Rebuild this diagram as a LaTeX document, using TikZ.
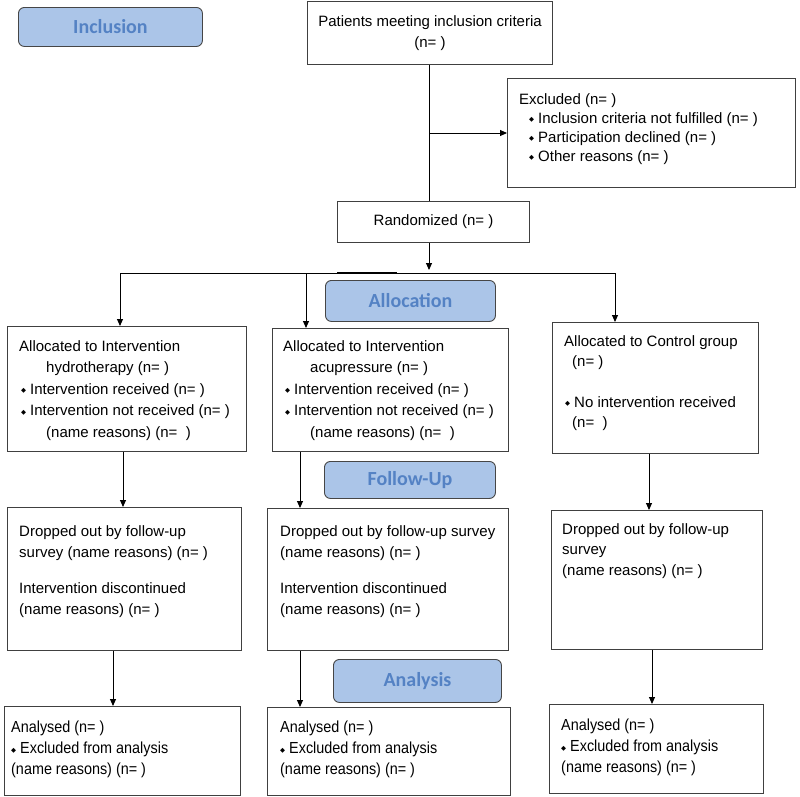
\documentclass[tikz,border=0pt]{standalone}
\usepackage{fontspec}
\setmainfont{Liberation Sans}
\newfontfamily\labfont{Carlito}
\newfontfamily\narrowfont[FakeStretch=0.9]{Liberation Sans}
\newfontfamily\symfont{DejaVu Sans}
\usetikzlibrary{arrows.meta, positioning}
\definecolor{my_blue}{RGB}{171, 197, 232}
\definecolor{my_textblue}{RGB}{84, 130, 196}
\definecolor{my_gray}{RGB}{70, 70, 70}
\newcommand{\bul}{{\symfont\fontsize{6.5}{6.5}\selectfont\raisebox{1.4pt}{◆}}\hspace{4pt}}
\tikzset {
  stage/.style = {draw=my_gray, line width=0.9pt, fill=my_blue, rounded corners=6pt, anchor=north west, text=my_textblue, font=\labfont\bfseries\fontsize{20}{24}\selectfont},
  box/.style = {draw=black!75, line width=1pt, fill=white, rectangle, anchor=north west, inner sep=0pt},
  txt/.style = {anchor=north west, align=left, inner sep=0pt, font=\fontsize{15}{21.5}\selectfont},
  ntxt/.style = {anchor=north west, align=left, inner sep=0pt, font=\narrowfont\fontsize{16}{21}\selectfont},
  line/.style = {-{Triangle[length=7pt, width=6pt]}, line width=0.9pt, color=black},
  plain/.style = {line width=0.9pt, color=black}
}

\begin{document}
\begin{tikzpicture}[x=1pt, y=-1pt]
    \useasboundingbox (0,0) rectangle (800,796);

    % stage labels
    \node[stage, minimum width=184pt, minimum height=39pt] (inclusion) at (18,7) {Inclusion};
    \node[stage, minimum width=170pt, minimum height=41pt] (allocation) at (325,280) {Allocation};
    \node[stage, minimum width=171pt, minimum height=37pt] (followup) at (324,461) {Follow-Up};
    \node[stage, minimum width=168pt, minimum height=43pt] (analysis) at (333,659) {Analysis};

    % enrolment
    \node[box, minimum width=245pt, minimum height=63pt, align=center, font=\fontsize{15}{21}\selectfont] (patients) at (307,1) {Patients meeting inclusion criteria\\(n= )};
    \node[box, minimum width=288pt, minimum height=109pt] (excluded) at (507,78) {};
    \node[txt, font=\fontsize{15}{19}\selectfont] (excludedtxt) at (519,93) {Excluded (n= )\\
      \hspace*{10pt}\bul Inclusion criteria not fulfilled (n= )\\
      \hspace*{10pt}\bul Participation declined (n= )\\
      \hspace*{10pt}\bul Other reasons (n= )};
    \node[box, minimum width=192pt, minimum height=41pt, font=\fontsize{15}{21}\selectfont] (randomized) at (337,201) {Randomized (n= )};

    % allocation
    \node[box, minimum width=239pt, minimum height=125pt] (hydro) at (7,326) {};
    \node[txt] (hydrotxt) at (19,340) {Allocated to Intervention\\
      \hspace*{27pt}hydrotherapy (n= )\\
      \hspace*{2pt}\bul Intervention received (n= )\\
      \hspace*{2pt}\bul Intervention not received (n= )\\
      \hspace*{27pt}(name reasons) (n= \ )};
    \node[box, minimum width=236pt, minimum height=123pt] (acu) at (272,328) {};
    \node[txt] (acutxt) at (283,340) {Allocated to Intervention\\
      \hspace*{27pt}acupressure (n= )\\
      \hspace*{2pt}\bul Intervention received (n= )\\
      \hspace*{2pt}\bul Intervention not received (n= )\\
      \hspace*{27pt}(name reasons) (n= \ )};
    \node[box, minimum width=206pt, minimum height=131pt] (control) at (552,322) {};
    \node[txt, font=\fontsize{15}{20}\selectfont] (controltxt) at (564,335) {Allocated to Control group\\
      \hspace*{8pt}(n= )\\[21pt]
      \hspace*{1pt}\bul No intervention received\\
      \hspace*{8pt}(n= \ )};

    % follow-up
    \node[box, minimum width=234pt, minimum height=143pt] (hydrofu) at (7,507) {};
    \node[txt, font=\fontsize{15}{21}\selectfont] (hydrofutxt) at (19,525) {Dropped out by follow-up\\
      survey (name reasons) (n= )\\[15pt]
      Intervention discontinued\\
      (name reasons) (n= )};
    \node[box, minimum width=241pt, minimum height=142pt] (acufu) at (267,508) {};
    \node[txt, font=\fontsize{15}{21}\selectfont] (acufutxt) at (280,525) {Dropped out by follow-up survey\\
      (name reasons) (n= )\\[15pt]
      Intervention discontinued\\
      (name reasons) (n= )};
    \node[box, minimum width=211pt, minimum height=139pt] (controlfu) at (551,510) {};
    \node[txt, font=\fontsize{15}{20.5}\selectfont] (controlfutxt) at (562,523) {Dropped out by follow-up\\
      survey\\
      (name reasons) (n= )};

    % analysis
    \node[box, minimum width=236pt, minimum height=89pt] (hydroan) at (4,706) {};
    \node[ntxt] (hydroantxt) at (11,721) {Analysed (n= )\\
      \bul Excluded from analysis\\
      (name reasons) (n= )};
    \node[box, minimum width=243pt, minimum height=88pt] (acuan) at (267,707) {};
    \node[ntxt] (acuantxt) at (280,721) {Analysed (n= )\\
      \bul Excluded from analysis\\
      (name reasons) (n= )};
    \node[box, minimum width=214pt, minimum height=89pt] (controlan) at (549,704) {};
    \node[ntxt] (controlantxt) at (561,719) {Analysed (n= )\\
      \bul Excluded from analysis\\
      (name reasons) (n= )};

    % helper points
    \coordinate (mid) at (429,273);
    \coordinate (b1) at (120,273);
    \coordinate (b2) at (306,273);
    \coordinate (b3) at (615,273);
    \coordinate (c1) at (123,0);
    \coordinate (c2) at (300,0);
    \coordinate (c3) at (649,0);
    \coordinate (d1) at (113,0);
    \coordinate (d2) at (300,0);
    \coordinate (d3) at (652,0);

    \draw[plain] (patients.south -| mid) -- (randomized.north -| mid);
    \draw[line] (excluded.west -| mid) -- (excluded.west);
    \draw[line, shorten >=3pt] (randomized.south -| mid) -- (mid);
    \draw[plain] (b1) -- (b3);
    \draw[plain] (337,272.2) -- (397,272.2);

    \draw[line] (b1) -- (hydro.north -| b1);
    \draw[line] (b2) -- (acu.north -| b2);
    \draw[line] (b3) -- (control.north -| b3);

    \draw[line] (hydro.south -| c1) -- (hydrofu.north -| c1);
    \draw[line] (acu.south -| c2) -- (acufu.north -| c2);
    \draw[line] (control.south -| c3) -- (controlfu.north -| c3);

    \draw[line] (hydrofu.south -| d1) -- (hydroan.north -| d1);
    \draw[line] (acufu.south -| d2) -- (acuan.north -| d2);
    \draw[line] (controlfu.south -| d3) -- (controlan.north -| d3);

\end{tikzpicture}
\end{document}
